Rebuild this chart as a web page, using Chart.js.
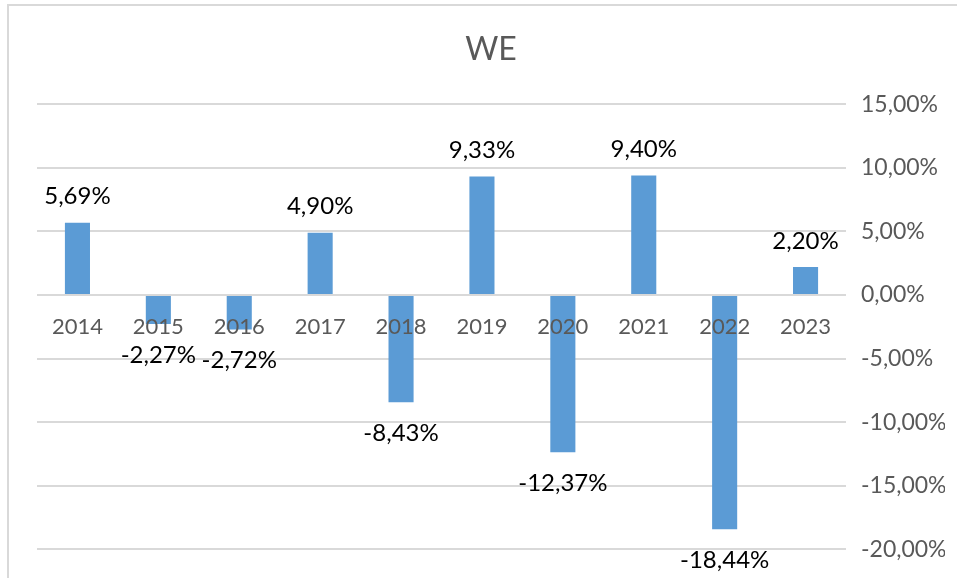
<!DOCTYPE html>
<html lang="en">
<head>
    <meta charset="utf-8" />
    <title>WE</title>
    <script src="https://cdn.jsdelivr.net/npm/chart.js@4/dist/chart.umd.min.js"></script>
    <style>
        body {
            margin: 0;
            background: #ffffff;
            overflow: hidden;
        }
        #wrap {
            position: absolute;
            left: 0;
            top: 0;
            width: 957px;
            height: 578px;
        }
        #frame {
            position: absolute;
            left: 7px;
            top: 4px;
            width: 1000px;
            height: 620px;
            border: 2px solid #d9d9d9;
            pointer-events: none;
        }
    </style>
</head>
<body>
    <div id="wrap">
        <canvas id="myChart" width="957" height="578"></canvas>
    </div>
    <div id="frame"></div>

    <script>
        var years = ["2014", "2015", "2016", "2017", "2018", "2019", "2020", "2021", "2022", "2023"];
        var weValues = [5.69, -2.27, -2.72, 4.90, -8.43, 9.33, -12.37, 9.40, -18.44, 2.20];
        var yTicks = [15, 10, 5, 0, -5, -10, -15, -20];

        var fmt = function (v) {
            return v.toFixed(2).replace(".", ",") + "%";
        };

        // value labels above / below each bar
        var barLabels = {
            id: "barLabels",
            afterDraw: function (chart) {
                var ctx = chart.ctx;
                var meta = chart.getDatasetMeta(0);
                ctx.save();
                ctx.font = "24px Lato";
                ctx.fillStyle = "#000000";
                ctx.textAlign = "center";
                ctx.textBaseline = "middle";
                meta.data.forEach(function (bar, i) {
                    var v = weValues[i];
                    if (v >= 0) {
                        ctx.fillText(fmt(v), bar.x, bar.y - 26);
                    } else {
                        ctx.fillText(fmt(v), bar.x, bar.y + 31);
                    }
                });
                ctx.restore();
            }
        };

        Chart.defaults.font.family = "Lato";

        var myChart = new Chart("myChart", {
            type: "bar",
            data: {
                labels: years,
                datasets: [{
                    data: weValues,
                    backgroundColor: "#5b9bd5",
                    barPercentage: 0.62,
                    categoryPercentage: 0.5
                }]
            },
            options: {
                responsive: false,
                animation: false,
                layout: {
                    padding: { left: 37, right: 12, top: 30, bottom: 9 }
                },
                plugins: {
                    legend: { display: false },
                    tooltip: { enabled: false },
                    title: {
                        display: true,
                        text: "WE",
                        color: "#595959",
                        font: { size: 32, weight: "normal" },
                        padding: { top: 0, bottom: 36 }
                    }
                },
                scales: {
                    x: {
                        position: { y: 0 },
                        grid: { display: false },
                        border: { display: false },
                        ticks: {
                            z: 1,
                            color: "#595959",
                            font: { size: 22 },
                            padding: 11,
                            maxRotation: 0
                        }
                    },
                    y: {
                        position: "right",
                        min: -20,
                        max: 15,
                        afterBuildTicks: function (axis) {
                            axis.ticks = yTicks.map(function (v) { return { value: v }; });
                        },
                        afterFit: function (axis) {
                            axis.width = 99;
                        },
                        grid: {
                            color: "#d9d9d9",
                            lineWidth: 2,
                            drawTicks: false
                        },
                        border: { display: false },
                        ticks: {
                            color: "#595959",
                            font: { size: 23 },
                            padding: 15,
                            callback: function (v) { return fmt(v); }
                        }
                    }
                }
            },
            plugins: [barLabels]
        });
    </script>
</body>
</html>
